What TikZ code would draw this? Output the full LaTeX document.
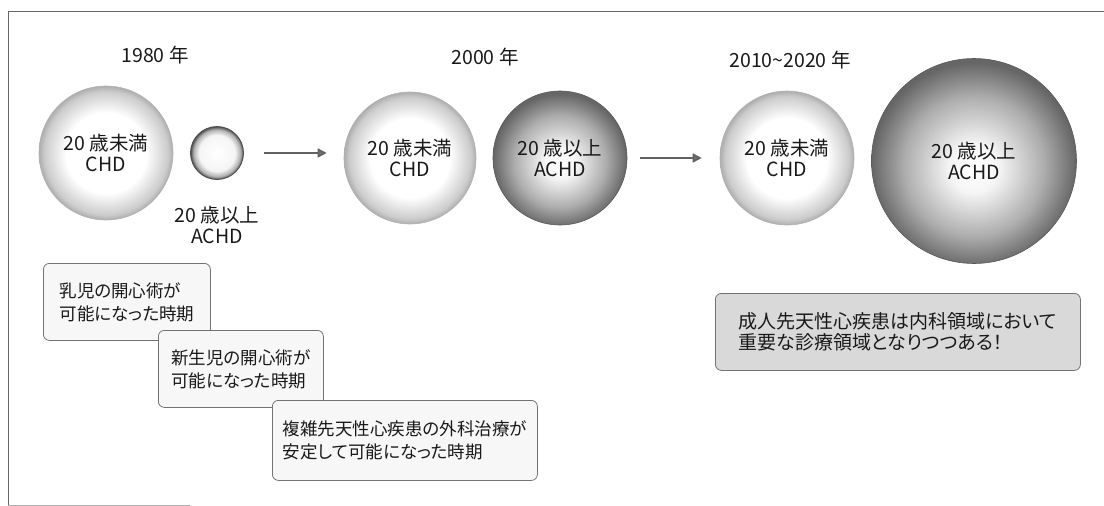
\documentclass[tikz,border=0pt]{standalone}
\usepackage{fontspec}
\setmainfont{Noto Sans CJK JP}[RawFeature={+palt}]
\usetikzlibrary{arrows.meta}
\pgfdeclareradialshading{lightball}{\pgfpoint{0bp}{0bp}}{color(0bp)=(white); color(15bp)=(white); color(23bp)=(black!20); color(25bp)=(black!32); color(50bp)=(black!32)}
\pgfdeclareradialshading{darkball}{\pgfpoint{0bp}{-2bp}}{color(0bp)=(white); color(6bp)=(black!4); color(17bp)=(black!32); color(25bp)=(black!60); color(50bp)=(black!60)}
\pgfdeclareradialshading{ringball}{\pgfpoint{0bp}{0bp}}{color(0bp)=(white); color(17bp)=(black!4); color(22bp)=(black!30); color(25bp)=(black!70); color(50bp)=(black!70)}
\begin{document}
\begin{tikzpicture}[x=1pt,y=-1pt,
  lbl/.style={font=\fontsize{19.5}{21}\selectfont, text=black!90, align=center, inner sep=0pt},
  lightc/.style={circle, inner sep=0pt, shading=lightball, draw=black!30, line width=0.6pt, lbl},
  darkc/.style={circle, inner sep=0pt, shading=darkball, draw=black!65, line width=0.6pt, lbl},
  ringc/.style={circle, inner sep=0pt, shading=ringball, draw=black!70, line width=0.8pt},
  note/.style={draw=black!55, line width=0.8pt, rounded corners=6pt, fill=black!3, align=left,
    font=\fontsize{17.5}{23}\selectfont, text=black!90, inner sep=0pt, anchor=north west},
  notedark/.style={note, fill=black!15, font=\fontsize{19}{21}\selectfont},
  flow/.style={draw=black!62, line width=1.7pt, -{Triangle[length=9pt,width=9pt,fill=black!55]}}
]
\useasboundingbox (0,0) rectangle (1104,506);
% frame
\draw[black!60, line width=1pt] (8,505) -- (8,11) -- (1104,11);
\draw[black!30, line width=0.8pt] (8,505) -- (190,505);

% year labels
\node[lbl] (y1) at (155,55) {1980 年};
\node[lbl] (y2) at (485,57) {2000 年};
\node[lbl] (y3) at (790,60) {2010\textasciitilde 2020 年};

% circles
\node[lightc, minimum size=134pt] (c1) at (106,153) {20 歳未満\\CHD};
\node[ringc, minimum size=53pt] (c2) at (217,153) {};
\node[lbl] (c2l) at (217,225) {20 歳以上\\ACHD};
\node[lightc, minimum size=132pt] (c3) at (410,158) {20 歳未満\\CHD};
\node[darkc, minimum size=134pt] (c4) at (560,158) {20 歳以上\\ACHD};
\node[lightc, minimum size=134pt] (c5) at (787,158) {20 歳未満\\CHD};
\node[darkc, minimum size=205pt] (c6) at (974,161) {20 歳以上\\ACHD};

% arrows
\draw[flow, shorten <=20pt, shorten >=17pt] (c2.east) -- (c3.west |- c2.east);
\draw[flow, shorten <=13pt, shorten >=18pt] (c4.east) -- (c5.west);

% notes
\node[note, minimum width=167pt, minimum height=77pt] (b1) at (43,263) {乳児の開心術が\\可能になった時期};
\node[note, minimum width=165pt, minimum height=77pt] (b2) at (158,330) {新生児の開心術が\\可能になった時期};
\node[note, minimum width=265pt, minimum height=80pt] (b3) at (272,400) {複雑先天性心疾患の外科治療が\\安定して可能になった時期};
\node[notedark, minimum width=365pt, minimum height=77pt] (b4) at (715,293) {成人先天性心疾患は内科領域において\\重要な診療領域となりつつある！};
\end{tikzpicture}
\end{document}
